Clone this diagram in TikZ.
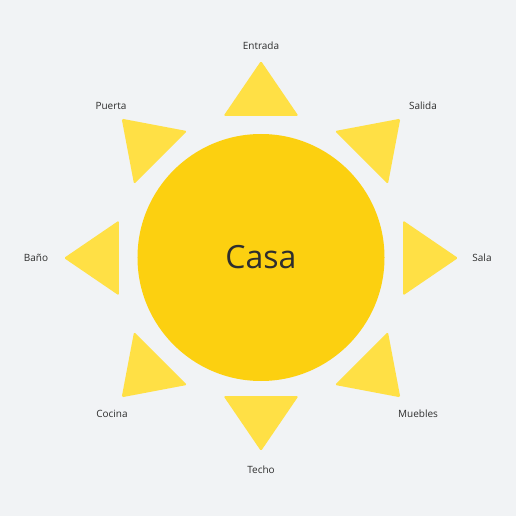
\documentclass[tikz,border=0pt]{standalone}
\usepackage{fontspec}
\setmainfont{Open Sans}
\definecolor{bg}{HTML}{F1F3F5}
\definecolor{sun}{HTML}{FCD010}
\definecolor{ray}{HTML}{FFE045}
\definecolor{ink}{HTML}{2E2E2E}
\begin{document}
\begin{tikzpicture}[x=1pt,y=1pt,
  raystyle/.style={fill=ray,draw=none,rounded corners=1.5pt},
  lbl/.style={text=ink,font=\fontsize{10}{12}\selectfont,inner sep=0pt}]
\fill[bg] (-261,-258) rectangle (255,258);
\useasboundingbox (-261,-258) rectangle (255,258);
\node[circle,fill=sun,minimum size=247pt,inner sep=0pt,text=ink,font=\fontsize{32}{36}\selectfont] (casa) at (0,0.5) {Casa};
\foreach \a in {0,45,...,225,315}{
  \fill[raystyle,rotate=\a] (142,-37.5) -- (197,0) -- (142,37.5) -- cycle;
}
\fill[raystyle] (-37.5,-138) -- (0,-193) -- (37.5,-138) -- cycle;
\node[lbl] (entrada) at (0,212) {Entrada};
\node[lbl] (salida) at (162,152) {Salida};
\node[lbl] (sala) at (221,0) {Sala};
\node[lbl] (muebles) at (157,-156) {Muebles};
\node[lbl] (techo) at (0,-212) {Techo};
\node[lbl] (cocina) at (-149,-156) {Cocina};
\node[lbl] (bano) at (-225,0) {Baño};
\node[lbl] (puerta) at (-150,152) {Puerta};
\end{tikzpicture}
\end{document}
